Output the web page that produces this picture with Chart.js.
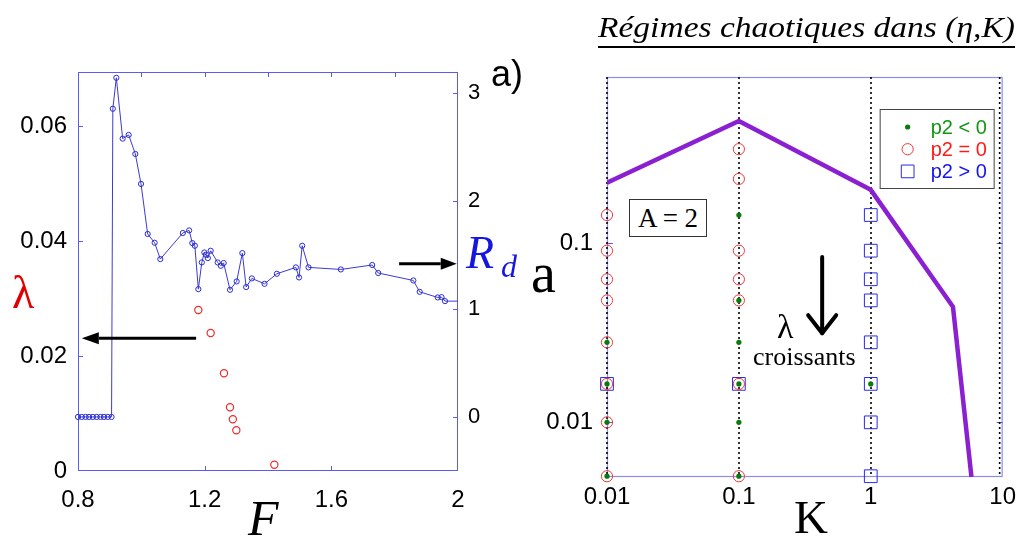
<!DOCTYPE html>
<html><head><meta charset="utf-8">
<script src="https://cdn.jsdelivr.net/npm/chart.js@4"></script>
<style>
html,body{margin:0;padding:0;background:#fff;width:1022px;height:537px;overflow:hidden}
canvas{position:absolute;left:0;top:0}
.t{position:absolute;white-space:nowrap;line-height:1;margin:0}
.serif{font-family:'Liberation Serif','Times New Roman',serif}
.sans{font-family:'Liberation Sans',Arial,sans-serif}
</style></head><body>
<canvas id="cL" width="1022" height="537"></canvas>
<canvas id="cR" width="1022" height="537"></canvas>

<div class="t serif" style="left:12px;top:269.5px;font-size:46px;color:#e00000">λ</div>
<div class="t serif" style="left:466px;top:229.5px;font-size:46px;font-style:italic;color:#1616e0">R</div>
<div class="t serif" style="left:501px;top:250.2px;font-size:32px;font-style:italic;color:#1616e0">d</div>
<div class="t sans" style="left:491px;top:55.5px;font-size:36px;color:#000">a)</div>
<div class="t serif" style="left:531px;top:245.1px;font-size:56px;color:#000">a</div>
<div class="t serif" style="left:248px;top:493.1px;font-size:50px;font-style:italic;color:#000">F</div>
<div class="t serif" style="left:794px;top:493.6px;font-size:47px;color:#000">K</div>
<div id="title" class="t serif" style="left:598px;top:11.9px;font-size:30px;font-style:italic;color:#000;transform-origin:0 0">Régimes chaotiques dans (η,K)</div>
<div style="position:absolute;left:598px;top:46px;width:417px;height:2px;background:#000"></div>
<div class="serif" style="position:absolute;left:629px;top:199px;width:76px;height:36px;border:1px solid #333;background:#fff;font-size:27px;line-height:36px;text-align:center;color:#000">A = 2</div>
<div class="t serif" style="left:777px;top:309.5px;font-size:34px;color:#000">λ</div>
<div class="t serif" style="left:753px;top:344.2px;font-size:26px;color:#000">croissants</div>

<script>
// ---------- Left panel data ----------
const F_RD = [0.800,0.812,0.824,0.835,0.847,0.859,0.871,0.882,0.894,0.906,
              0.910,0.921,0.941,0.960,0.981,0.999,1.020,1.042,1.060,1.131,
              1.151,1.161,1.169,1.180,1.191,1.199,1.204,1.210,1.219,1.241,
              1.251,1.260,1.280,1.301,1.319,1.331,1.349,1.389,1.428,1.488,
              1.498,1.508,1.528,1.630,1.729,1.748,1.859,1.879,1.936,1.948,
              1.959,2.000];
const RD   = [0,0,0,0,0,0,0,0,0,0,
              2.85,3.136,2.574,2.608,2.432,2.155,1.692,1.611,1.460,1.701,
              1.725,1.608,1.583,1.182,1.429,1.521,1.500,1.469,1.537,1.429,
              1.398,1.423,1.176,1.253,1.515,1.201,1.281,1.231,1.324,1.383,
              1.290,1.583,1.383,1.364,1.405,1.331,1.262,1.157,1.105,1.108,
              1.071,1.071];
const F_LAM = [1.180,1.219,1.261,1.280,1.289,1.300,1.420];
const LAM   = [0.0280,0.0240,0.0170,0.0111,0.0090,0.0071,0.0011];
const F_TICKS = [0.8,1.0,1.2,1.4,1.6,1.8,2.0];
const F_LABELS = ['0.8','','1.2','','1.6','','2'];
const LAM_TICKS = [0,0.02,0.04,0.06];
const LAM_LABELS = ['0','0.02','0.04','0.06'];
const RD_TICKS = [0,1,2,3];
const RD_LABELS = ['0','1','2','3'];

// ---------- Right panel data ----------
const K_TICKS = [0.01,0.1,1,10];
const K_LABELS = ['0.01','0.1','1','10'];
const A_TICKS = [0.01,0.1];
const A_LABELS = ['0.01','0.1'];
const BOUND_K = [0.01,0.1,1,4.2,5.8];
const BOUND_A = [0.218,0.483,0.199,0.0442,0.00495];
const NEG_K  = [0.01,0.01,0.01,0.01,0.1,0.1,0.1,0.1,0.1,0.1,1];
const NEG_A  = [0.028,0.0164,0.01,0.005,0.144,0.048,0.028,0.0164,0.01,0.005,0.0164];
const ZERO_K = [0.01,0.01,0.01,0.01,0.01,0.01,0.01,0.01,0.1,0.1,0.1,0.1,0.1,0.1,0.1];
const ZERO_A = [0.144,0.091,0.063,0.048,0.028,0.0164,0.01,0.005,0.336,0.229,0.091,0.063,0.048,0.0164,0.005];
const POS_K  = [0.01,0.1,1,1,1,1,1,1,1,1];
const POS_A  = [0.0164,0.0164,0.144,0.091,0.063,0.048,0.028,0.0164,0.01,0.005];

const pts = (xs, ys) => xs.map((x, i) => ({x: x, y: ys[i]}));
const TICK_FONT = {family: "'Liberation Sans', Arial, sans-serif", size: 24};

function arrowFilled(ctx, x1, y1, x2, y2, headLen, headHalf, w) {
  const ang = Math.atan2(y2 - y1, x2 - x1);
  const bx = x2 - headLen * Math.cos(ang), by = y2 - headLen * Math.sin(ang);
  ctx.save();
  ctx.strokeStyle = '#000'; ctx.fillStyle = '#000'; ctx.lineWidth = w;
  ctx.beginPath(); ctx.moveTo(x1, y1); ctx.lineTo(bx, by); ctx.stroke();
  ctx.beginPath();
  ctx.moveTo(x2, y2);
  ctx.lineTo(bx + headHalf * Math.sin(ang), by - headHalf * Math.cos(ang));
  ctx.lineTo(bx - headHalf * Math.sin(ang), by + headHalf * Math.cos(ang));
  ctx.closePath(); ctx.fill();
  ctx.restore();
}

const leftDecor = {
  id: 'leftDecor',
  beforeDatasetsDraw(chart) {
    const {ctx, chartArea: a, scales} = chart;
    ctx.save();
    ctx.strokeStyle = '#5b5bf2'; ctx.lineWidth = 1;
    ctx.strokeRect(a.left + 0.5, a.top + 0.5, a.right - a.left - 1, a.bottom - a.top - 1);
    ctx.beginPath();
    F_TICKS.forEach((v, i) => {
      if (v <= 0.8 || v >= 2) return;
      const x = Math.round(scales.x.getPixelForValue(v)) + 0.5;
      ctx.moveTo(x, a.top); ctx.lineTo(x, a.top + 5);
      if (F_LABELS[i]) { ctx.moveTo(x, a.bottom); ctx.lineTo(x, a.bottom - 5); }
    });
    LAM_TICKS.forEach(v => {
      if (v === 0) return;
      const y = Math.round(scales.y.getPixelForValue(v)) + 0.5;
      ctx.moveTo(a.left, y); ctx.lineTo(a.left + 5, y);
    });
    RD_TICKS.forEach(v => {
      const y = Math.round(scales.y2.getPixelForValue(v)) + 0.5;
      ctx.moveTo(a.right, y); ctx.lineTo(a.right - 5, y);
    });
    ctx.stroke();
    ctx.restore();
  },
  afterDatasetsDraw(chart) {
    const {ctx, scales} = chart;
    const yl = scales.y.getPixelForValue(0.0231);
    arrowFilled(ctx, scales.x.getPixelForValue(1.173), yl, scales.x.getPixelForValue(0.812), yl, 17, 6, 3);
    const yr = scales.y2.getPixelForValue(1.417);
    arrowFilled(ctx, scales.x.getPixelForValue(1.814), yr, scales.x.getPixelForValue(1.996), yr, 16, 6, 3);
  }
};

new Chart(document.getElementById('cL'), {
  type: 'scatter',
  data: {datasets: [
    {label: 'λ', data: pts(F_LAM, LAM), yAxisID: 'y', showLine: false,
     pointRadius: 3.6, pointBorderColor: '#ee2a2a', pointBackgroundColor: 'rgba(0,0,0,0)',
     pointBorderWidth: 1.2, clip: false, order: 0},
    {label: 'Rd', data: pts(F_RD, RD), yAxisID: 'y2', showLine: true,
     borderColor: '#3a3ad6', borderWidth: 1, tension: 0,
     pointRadius: c => (c.raw && c.raw.x >= 2) ? 0 : 2.6,
     pointBorderColor: '#2b2bd0', pointBackgroundColor: 'rgba(0,0,0,0)',
     pointBorderWidth: 1, clip: false, order: 1}
  ]},
  options: {
    responsive: false, animation: false, devicePixelRatio: 1,
    layout: {padding: {top: 72, left: 0, right: 0, bottom: 0}},
    plugins: {legend: {display: false}, tooltip: {enabled: false}},
    scales: {
      x: {type: 'linear', position: 'bottom', min: 0.8, max: 2,
          afterBuildTicks: s => { s.ticks = F_TICKS.map(v => ({value: v})); },
          ticks: {callback: (v, i) => F_LABELS[i], font: TICK_FONT, color: '#000', padding: 15,
                  autoSkip: false, maxRotation: 0, minRotation: 0},
          grid: {display: false, drawTicks: false}, border: {display: false},
          afterFit: s => { s.height = 66; }},
      y: {type: 'linear', position: 'left', min: 0, max: 0.0694,
          afterBuildTicks: s => { s.ticks = LAM_TICKS.map(v => ({value: v})); },
          ticks: {callback: (v, i) => LAM_LABELS[i], font: TICK_FONT, color: '#000', padding: 11, autoSkip: false},
          grid: {display: false, drawTicks: false}, border: {display: false},
          afterFit: s => { s.width = 78; }},
      y2: {type: 'linear', position: 'right', min: -0.5, max: 3.19,
          afterBuildTicks: s => { s.ticks = RD_TICKS.map(v => ({value: v})); },
          ticks: {callback: (v, i) => RD_LABELS[i], font: {family: TICK_FONT.family, size: 22}, color: '#000', padding: 10, autoSkip: false},
          grid: {display: false, drawTicks: false}, border: {display: false},
          afterFit: s => { s.width = 1022 - 458; }}
    }
  },
  plugins: [leftDecor]
});

const rightDecor = {
  id: 'rightDecor',
  beforeDatasetsDraw(chart) {
    const {ctx, chartArea: a, scales} = chart;
    ctx.save();
    ctx.strokeStyle = '#8c8cf2'; ctx.lineWidth = 1.2;
    ctx.strokeRect(a.left + 0.5, a.top + 0.5, a.right - a.left - 1, a.bottom - a.top - 1);
    ctx.strokeStyle = '#5b5be8'; ctx.lineWidth = 1;
    ctx.beginPath();
    A_TICKS.forEach(v => {
      const y = Math.round(scales.y.getPixelForValue(v)) + 0.5;
      ctx.moveTo(a.left, y); ctx.lineTo(a.left + 6, y);
      ctx.moveTo(a.right, y); ctx.lineTo(a.right - 6, y);
    });
    ctx.stroke();
    ctx.strokeStyle = '#000'; ctx.lineWidth = 1.6; ctx.setLineDash([2, 3]);
    ctx.beginPath();
    K_TICKS.forEach(v => {
      let x = Math.round(scales.x.getPixelForValue(v));
      if (x >= a.right - 1) x = a.right - 3;
      ctx.moveTo(x, a.top); ctx.lineTo(x, a.bottom);
    });
    ctx.stroke();
    ctx.restore();
  },
  afterDatasetsDraw(chart) {
    const {ctx, chartArea: a, scales} = chart;
    // legend built from the datasets
    const items = chart.data.datasets.filter(d => d.label);
    const w = 114, h = 79;
    const x0 = a.right - 9 - w, y0 = a.top + 32;
    ctx.save();
    ctx.fillStyle = '#fff'; ctx.fillRect(x0, y0, w, h);
    ctx.strokeStyle = '#444'; ctx.lineWidth = 1;
    ctx.strokeRect(x0 + 0.5, y0 + 0.5, w, h);
    ctx.font = "20px 'Liberation Sans', Arial, sans-serif";
    ctx.textBaseline = 'middle'; ctx.textAlign = 'left';
    items.forEach((d, i) => {
      const cy = y0 + 18 + i * 22.2, mx = x0 + 28;
      ctx.beginPath();
      if (d.pointStyle === 'rect') {
        const s = d.pointRadius * Math.SQRT1_2;
        ctx.rect(mx - s, cy - s, 2 * s, 2 * s);
      } else {
        ctx.arc(mx, cy, d.pointRadius, 0, Math.PI * 2);
      }
      if (d.pointBorderWidth > 0) { ctx.lineWidth = d.pointBorderWidth; ctx.strokeStyle = d.pointBorderColor; ctx.stroke(); }
      if (d.pointBackgroundColor !== 'rgba(0,0,0,0)') { ctx.fillStyle = d.pointBackgroundColor; ctx.fill(); }
      ctx.fillStyle = d.textColor;
      ctx.fillText(d.label, x0 + 51, cy + 1);
    });
    ctx.restore();
    // "lambda increasing" arrow
    const ax = scales.x.getPixelForValue(0.428);
    const yt = scales.y.getPixelForValue(0.0838), yb = scales.y.getPixelForValue(0.0315);
    ctx.save();
    ctx.strokeStyle = '#000'; ctx.lineWidth = 4; ctx.lineCap = 'round'; ctx.lineJoin = 'round';
    ctx.beginPath(); ctx.moveTo(ax, yt); ctx.lineTo(ax, yb); ctx.stroke();
    ctx.beginPath(); ctx.moveTo(ax - 14, yb - 18); ctx.lineTo(ax, yb); ctx.lineTo(ax + 14, yb - 18); ctx.stroke();
    ctx.restore();
  }
};

new Chart(document.getElementById('cR'), {
  type: 'scatter',
  data: {datasets: [
    {label: 'p2 < 0', data: pts(NEG_K, NEG_A), pointStyle: 'circle', pointRadius: 2.6,
     pointBackgroundColor: '#0a7a0a', pointBorderColor: '#0a7a0a', pointBorderWidth: 0,
     textColor: '#129612', clip: false, order: 0},
    {label: 'p2 = 0', data: pts(ZERO_K, ZERO_A), pointStyle: 'circle', pointRadius: 5.6,
     pointBackgroundColor: 'rgba(0,0,0,0)', pointBorderColor: '#f03a3a', pointBorderWidth: 1,
     textColor: '#ff1a1a', clip: false, order: 1},
    {label: 'p2 > 0', data: pts(POS_K, POS_A), pointStyle: 'rect', pointRadius: 9,
     pointBackgroundColor: 'rgba(0,0,0,0)', pointBorderColor: '#2a2ae6', pointBorderWidth: 1,
     textColor: '#1515f0', clip: false, order: 2},
    {label: '', data: pts(BOUND_K, BOUND_A), showLine: true, borderColor: '#8b1fd2',
     borderWidth: 4.5, borderJoinStyle: 'miter', pointRadius: 0, order: 3}
  ]},
  options: {
    responsive: false, animation: false, devicePixelRatio: 1,
    layout: {padding: {top: 77, left: 0, right: 16, bottom: 0}},
    plugins: {legend: {display: false}, tooltip: {enabled: false}},
    scales: {
      x: {type: 'logarithmic', position: 'bottom', min: 0.01, max: 10,
          afterBuildTicks: s => { s.ticks = K_TICKS.map(v => ({value: v})); },
          ticks: {callback: (v, i) => K_LABELS[i], font: TICK_FONT, color: '#000', padding: 6,
                  autoSkip: false, maxRotation: 0, minRotation: 0},
          grid: {display: false, drawTicks: false}, border: {display: false},
          afterFit: s => { s.height = 60; }},
      y: {type: 'logarithmic', position: 'left', min: 0.00495, max: 0.85,
          afterBuildTicks: s => { s.ticks = A_TICKS.map(v => ({value: v})); },
          ticks: {callback: (v, i) => A_LABELS[i], font: TICK_FONT, color: '#000', padding: 14, autoSkip: false},
          grid: {display: false, drawTicks: false}, border: {display: false},
          afterFit: s => { s.width = 607; }}
    }
  },
  plugins: [rightDecor]
});

// stretch the title to the reference width
(function () {
  const el = document.getElementById('title');
  const m = document.createElement('canvas').getContext('2d');
  m.font = "italic 30px 'Liberation Serif'";
  const w = m.measureText(el.textContent).width;
  el.style.transform = 'scaleX(' + (417 / w) + ')';
})();
</script>
</body></html>
